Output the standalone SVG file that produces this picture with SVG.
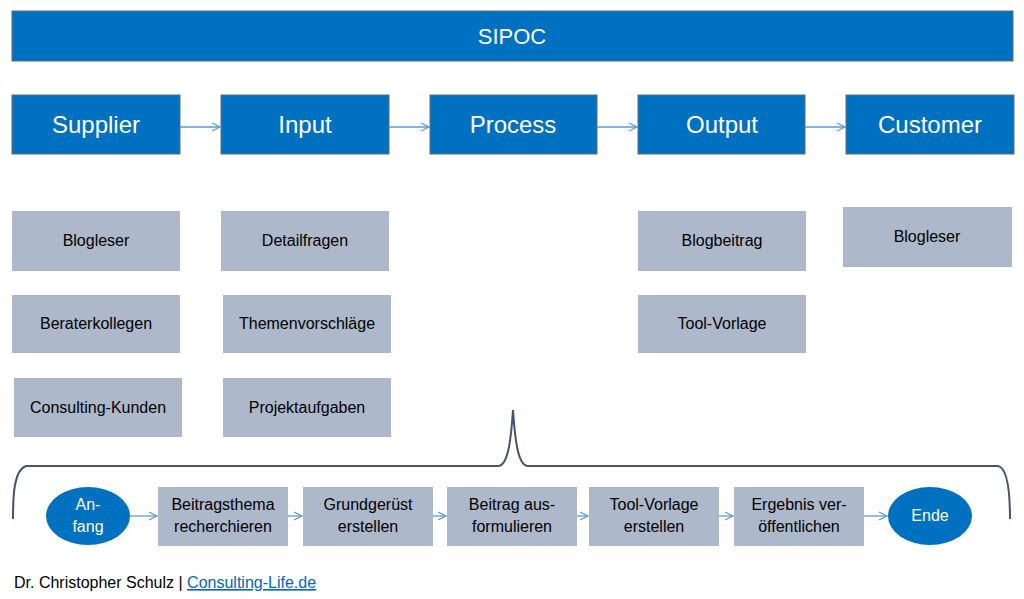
<svg xmlns="http://www.w3.org/2000/svg" width="1024" height="599" viewBox="0 0 1024 599">
<defs>
<style>
.hdr{fill:#0070C0;stroke:#5f6f7f;stroke-width:1}
.gb{fill:#ADB9CA}
.wt{fill:#fff;font-family:"Liberation Sans",Arial,sans-serif;text-anchor:middle}
.bt{fill:#000;font-family:"Liberation Sans",Arial,sans-serif;font-size:16px;text-anchor:middle}
.con{stroke:#5B9BD5;stroke-width:1.3;fill:none;marker-end:url(#ah)}
</style>
<marker id="ah" viewBox="0 0 10 10" refX="9" refY="5" markerWidth="10" markerHeight="10" markerUnits="userSpaceOnUse" orient="auto">
<path d="M1,1 L9,5 L1,9" fill="none" stroke="#5B9BD5" stroke-width="1.3"/>
</marker>
</defs>
<rect width="1024" height="599" fill="#fff"/>
<g id="title"><rect class="hdr" x="12" y="11" width="1001" height="50"/><text class="wt" x="512" y="44" font-size="22">SIPOC</text></g>
<g id="supplier"><rect class="hdr" x="12" y="95" width="168" height="59"/><text class="wt" x="96" y="133" font-size="24">Supplier</text></g>
<g id="input"><rect class="hdr" x="221" y="95" width="168" height="59"/><text class="wt" x="305" y="133" font-size="24">Input</text></g>
<g id="process"><rect class="hdr" x="430" y="95" width="167" height="59"/><text class="wt" x="513" y="133" font-size="24">Process</text></g>
<g id="output"><rect class="hdr" x="638" y="95" width="167" height="59"/><text class="wt" x="722" y="133" font-size="24">Output</text></g>
<g id="customer"><rect class="hdr" x="846" y="95" width="168" height="59"/><text class="wt" x="930" y="133" font-size="24">Customer</text></g>

<g id="s1"><rect class="gb" x="12" y="211" width="168" height="60"/><text class="bt" x="96" y="246">Blogleser</text></g>
<g id="s2"><rect class="gb" x="12" y="295" width="168" height="58"/><text class="bt" x="96" y="329">Beraterkollegen</text></g>
<g id="s3"><rect class="gb" x="14" y="378" width="168" height="59"/><text class="bt" x="98" y="413">Consulting-Kunden</text></g>
<g id="i1"><rect class="gb" x="221" y="211" width="168" height="60"/><text class="bt" x="305" y="246">Detailfragen</text></g>
<g id="i2"><rect class="gb" x="223" y="295" width="168" height="58"/><text class="bt" x="307" y="329">Themenvorschläge</text></g>
<g id="i3"><rect class="gb" x="223" y="378" width="168" height="59"/><text class="bt" x="307" y="413">Projektaufgaben</text></g>
<g id="o1"><rect class="gb" x="638" y="211" width="168" height="60"/><text class="bt" x="722" y="246">Blogbeitrag</text></g>
<g id="o2"><rect class="gb" x="638" y="295" width="168" height="58"/><text class="bt" x="722" y="329">Tool-Vorlage</text></g>
<g id="c1"><rect class="gb" x="843" y="207" width="169" height="60"/><text class="bt" x="927" y="242">Blogleser</text></g>

<g id="brace"><path d="M13,519 C13,495 14,470 26,466 L498,466 C508,466 511,440 513,410 C515,440 518,466 528,466 L998,466 C1008,468 1010,495 1010,519" fill="none" stroke="#44546A" stroke-width="2"/></g>

<g id="anfang"><ellipse cx="88" cy="516" rx="42" ry="29" fill="#0070C0"/><text class="wt" x="88" y="510" font-size="16">An-</text><text class="wt" x="88" y="532" font-size="16">fang</text></g>
<g id="p1"><rect class="gb" x="158" y="487" width="130" height="59"/><text class="bt" x="223" y="510">Beitragsthema</text><text class="bt" x="223" y="532">recherchieren</text></g>
<g id="p2"><rect class="gb" x="303" y="487" width="130" height="59"/><text class="bt" x="368" y="510">Grundgerüst</text><text class="bt" x="368" y="532">erstellen</text></g>
<g id="p3"><rect class="gb" x="447" y="487" width="130" height="59"/><text class="bt" x="512" y="510">Beitrag aus-</text><text class="bt" x="512" y="532">formulieren</text></g>
<g id="p4"><rect class="gb" x="589" y="487" width="130" height="59"/><text class="bt" x="654" y="510">Tool-Vorlage</text><text class="bt" x="654" y="532">erstellen</text></g>
<g id="p5"><rect class="gb" x="734" y="487" width="130" height="59"/><text class="bt" x="799" y="510">Ergebnis ver-</text><text class="bt" x="799" y="532">öffentlichen</text></g>
<g id="ende"><ellipse cx="930" cy="516" rx="42" ry="29" fill="#0070C0"/><text class="wt" x="930" y="521" font-size="16">Ende</text></g>

<g id="connectors">
<line class="con" x1="180" y1="127" x2="220" y2="127"/>
<line class="con" x1="389" y1="127" x2="429" y2="127"/>
<line class="con" x1="597" y1="127" x2="637" y2="127"/>
<line class="con" x1="805" y1="127" x2="845" y2="127"/>
<line class="con" x1="130" y1="516" x2="157" y2="516"/>
<line class="con" x1="288" y1="516" x2="302" y2="516"/>
<line class="con" x1="433" y1="516" x2="446" y2="516"/>
<line class="con" x1="577" y1="516" x2="588" y2="516"/>
<line class="con" x1="719" y1="516" x2="733" y2="516"/>
<line class="con" x1="864" y1="516" x2="887" y2="516"/>
</g>

<g id="footer" font-family="'Liberation Sans',Arial,sans-serif" font-size="16">
<text x="14" y="588" fill="#000">Dr. Christopher Schulz | <tspan fill="#0563C1" text-decoration="underline">Consulting-Life.de</tspan></text>
</g>
</svg>
